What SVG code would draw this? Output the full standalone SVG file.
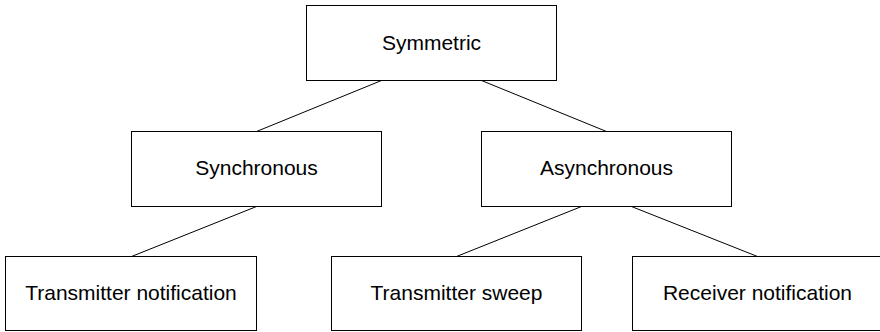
<svg xmlns="http://www.w3.org/2000/svg" width="880" height="332" viewBox="0 0 880 332">
  <style>
    .box { fill: #ffffff; stroke: #000000; stroke-width: 1; }
    .label { font-family: "Liberation Sans", Arial, sans-serif; font-size: 21px; fill: #000000; text-anchor: middle; }
    .edge { stroke: #000000; stroke-width: 1; fill: none; }
  </style>
  <rect width="880" height="332" fill="#ffffff"/>
  <g id="connectors">
    <line class="edge" x1="381.5" y1="80.5" x2="256.5" y2="131.5"/>
    <line class="edge" x1="481.5" y1="80.5" x2="606.5" y2="131.5"/>
    <line class="edge" x1="256.5" y1="206.5" x2="131.5" y2="256.5"/>
    <line class="edge" x1="581.5" y1="206.5" x2="456.5" y2="256.5"/>
    <line class="edge" x1="631.5" y1="206.5" x2="757.5" y2="256.5"/>
  </g>
  <g id="symmetric">
    <rect class="box" x="306.5" y="5.5" width="250" height="75"/>
    <text class="label" x="431.5" y="50">Symmetric</text>
  </g>
  <g id="synchronous">
    <rect class="box" x="131.5" y="131.5" width="250" height="75"/>
    <text class="label" x="256.5" y="175">Synchronous</text>
  </g>
  <g id="asynchronous">
    <rect class="box" x="481.5" y="131.5" width="250" height="75"/>
    <text class="label" x="606.5" y="175">Asynchronous</text>
  </g>
  <g id="transmitter-notification">
    <rect class="box" x="5.5" y="256.5" width="251" height="74"/>
    <text class="label" x="131" y="300">Transmitter notification</text>
  </g>
  <g id="transmitter-sweep">
    <rect class="box" x="331.5" y="256.5" width="250" height="74"/>
    <text class="label" x="456.5" y="300">Transmitter sweep</text>
  </g>
  <g id="receiver-notification">
    <rect class="box" x="632.5" y="256.5" width="250" height="74"/>
    <text class="label" x="757.5" y="300">Receiver notification</text>
  </g>
</svg>
